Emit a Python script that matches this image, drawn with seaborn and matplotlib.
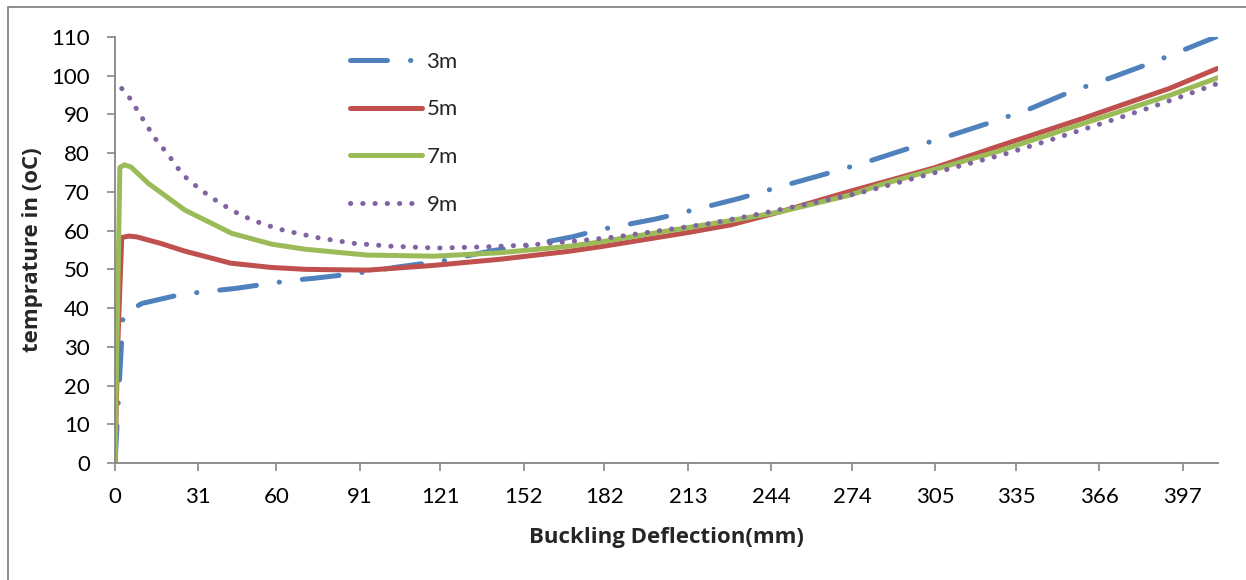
import matplotlib
matplotlib.use("Agg")
import matplotlib.pyplot as plt
import seaborn as sns
import numpy as np
from matplotlib.patches import Rectangle

# ---- data ----
x_3m = [0, 3, 10, 25, 45, 65, 74, 89, 105, 122, 140, 153, 170, 180, 201, 216,
        232, 247, 263, 278, 294, 309, 325, 340, 355, 370, 386, 400, 410]
y_3m = [0, 38.4, 41.2, 43.6, 45.1, 47.1, 47.7, 48.9, 50.6, 52.2, 54.8, 56.1, 58.4,
        60.2, 63.0, 65.5, 68.3, 71.3, 74.4, 77.4, 81.0, 84.2, 87.8, 91.4, 95.8,
        99.4, 103.5, 107.4, 110.2]

x_5m = [0, 1, 2.5, 5, 8, 17, 26, 43, 58, 71, 94, 118, 143, 168, 181, 213, 229,
        247, 273, 285, 305, 328, 360, 392, 410]
y_5m = [0, 30, 58.2, 58.6, 58.4, 56.7, 54.7, 51.6, 50.5, 50.0, 49.8, 51.0, 52.6,
        54.6, 55.9, 59.5, 61.5, 64.8, 70.1, 72.4, 76.3, 81.7, 89.0, 96.7, 101.9]

x_7m = [0, 1.8, 3.5, 6, 12.4, 26, 43.4, 58.3, 70.7, 93.6, 118.4, 143.2, 168,
        180.6, 229, 247, 273.4, 284.5, 328, 392.4, 410.5]
y_7m = [0, 76.3, 77.0, 76.4, 72.2, 65.3, 59.3, 56.5, 55.2, 53.7, 53.4, 54.3,
        55.9, 57.1, 62.6, 64.8, 69.2, 71.8, 80.4, 95.0, 99.6]

x_9m = [2.5, 5.3, 9.9, 14.6, 20.1, 25.2, 31.9, 39, 46.8, 55, 63.2, 76, 89, 102,
        119.6, 137, 154.3, 172.3, 185.3, 202.7, 220, 237.4, 254.1, 271.5, 280,
        305.6, 331, 347.7, 368.4, 385, 401.7, 410]
y_9m = [96.7, 94.4, 89.3, 84.1, 79.3, 74.4, 70.5, 67.1, 64.0, 61.7, 60.0, 58.1,
        56.7, 56.0, 55.5, 55.8, 56.3, 57.4, 58.3, 60.0, 61.7, 64.0, 66.4, 68.9,
        70.3, 75.1, 79.8, 83.4, 88.0, 91.8, 95.9, 98.0]

labels = ["3m", "5m", "7m", "9m"]
colors = ["#4F81BD", "#C0504D", "#9BBB59", "#8064A2"]
x_ticks = [0, 31, 60, 91, 121, 152, 182, 213, 244, 274, 305, 335, 366, 397]
y_ticks = list(range(0, 111, 10))

# ---- style ----
sns.set_theme(style="white")
plt.rcParams["font.family"] = ["Lato", "DejaVu Sans"]

W, H = 1246, 580
fig = plt.figure(figsize=(W / 100, H / 100), dpi=100)
ax = fig.add_axes([115 / W, 1 - 463 / H, (1217.7 - 115) / W, (463 - 37) / H])

lw = 3.6
series = [(x_3m, y_3m), (x_5m, y_5m), (x_7m, y_7m), (x_9m, y_9m)]
dash_styles = [(7.4, 4.6, 0.05, 4.6), None, None, (0.05, 2.4)]
lines = []
for (xs, ys), lab, col, ds in zip(series, labels, colors, dash_styles):
    sns.lineplot(x=xs, y=ys, ax=ax, color=col, linewidth=lw, label=lab,
                 sort=False, estimator=None)
    ln = ax.lines[-1]
    ln.set_solid_capstyle("round")
    ln.set_solid_joinstyle("round")
    if ds is not None:
        ln.set_dashes(ds)
        ln.set_dash_capstyle("round")
    lines.append(ln)

ax.set_xlim(0, 410)
ax.set_ylim(0, 110)
ax.set_xticks(x_ticks)
ax.set_yticks(y_ticks)

grey = "#868686"
for s in ["top", "right"]:
    ax.spines[s].set_visible(False)
for s in ["left", "bottom"]:
    ax.spines[s].set_color(grey)
    ax.spines[s].set_linewidth(1.3)

tick_fs = 16
ax.tick_params(axis="both", which="major", direction="out", length=6,
               width=1.2, color=grey, labelsize=tick_fs, labelcolor="black")
ax.tick_params(axis="x", pad=11, bottom=True)
ax.tick_params(axis="y", pad=12, left=True)

lab_font = dict(family=["Open Sans", "DejaVu Sans"], fontsize=16,
                fontweight="bold")
ax.set_xlabel("Buckling Deflection(mm)", labelpad=15, **lab_font)
ax.set_ylabel("temprature in (oC)", labelpad=6, **lab_font)

leg = ax.legend(handles=lines, labels=labels, frameon=False, loc="upper left",
                bbox_to_anchor=(0.195, 1.012), handlelength=3.24,
                labelspacing=1.24, handletextpad=0.2, fontsize=tick_fs)

# outer chart border (visible left and top edges)
fig.add_artist(Rectangle((8 / W, -0.1), 1.2, 1 - 7 / H + 0.1,
                         transform=fig.transFigure, fill=False,
                         edgecolor=grey, linewidth=1.3, clip_on=False))

fig.savefig("out.png", dpi=100)
